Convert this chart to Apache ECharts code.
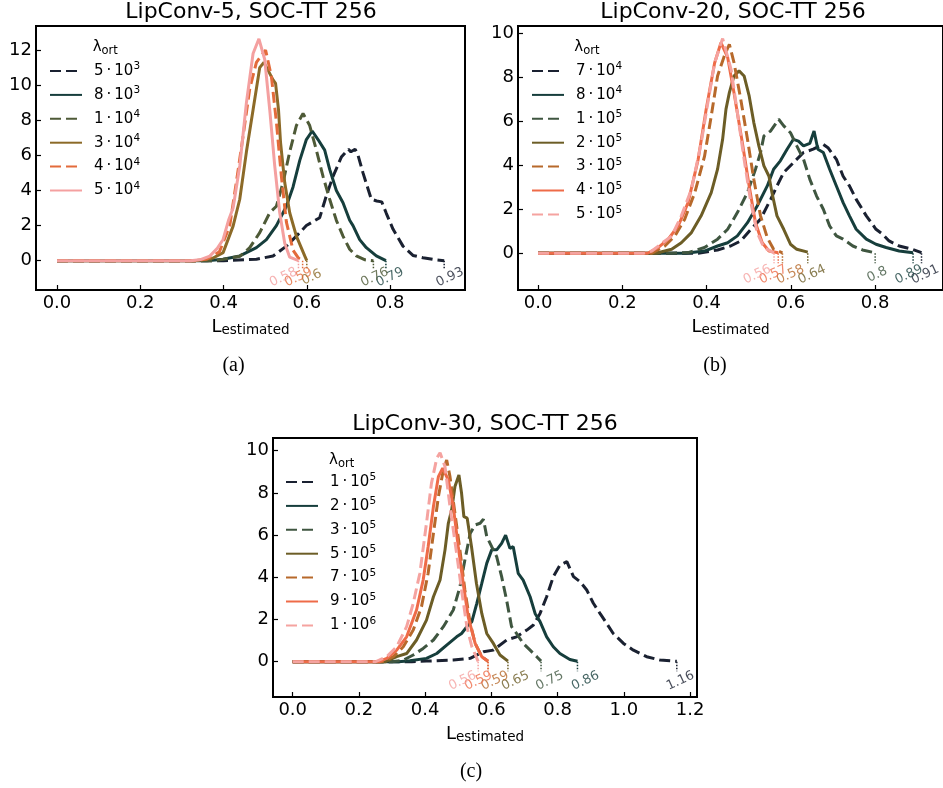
<!DOCTYPE html>
<html><head><meta charset="utf-8">
<script src="https://cdn.jsdelivr.net/npm/echarts@6/dist/echarts.min.js"></script>
<style>html,body{margin:0;padding:0;background:#fff}#c{width:943px;height:788px}</style>
</head><body><div id="c"></div>
<script>
// ================= DATA =================
// ---- Panel (a): LipConv-5
const titleA = 'LipConv-5, SOC-TT 256';
const mantA = [5, 8, 1, 3, 4, 5];
const expA  = [3, 3, 4, 4, 4, 4];
const dashA = [true, false, true, false, true, false];
const colorA = ['#1a2131', '#163e3c', '#4e5a37', '#8c6a28', '#e36b3b', '#f4a0a0'];
const a1 = [[0,0],[0.40,0],[0.479,0.08],[0.519,0.27],[0.551,0.83],[0.575,1.4],[0.599,2.0],[0.631,2.45],[0.647,3.7],[0.663,4.8],[0.683,5.9],[0.70,6.35],[0.706,6.2],[0.716,6.35],[0.722,6.1],[0.735,5.0],[0.755,3.5],[0.768,3.4],[0.78,3.35],[0.791,2.7],[0.807,1.8],[0.831,0.83],[0.855,0.3],[0.879,0.17],[0.911,0.04],[0.93,0]];
const a2 = [[0,0],[0.36,0],[0.399,0.08],[0.439,0.27],[0.467,0.6],[0.479,0.74],[0.503,1.2],[0.527,2.0],[0.551,3.1],[0.567,4.2],[0.583,5.7],[0.599,6.9],[0.613,7.39],[0.627,6.9],[0.643,6.3],[0.655,5.2],[0.671,4.0],[0.687,3.3],[0.703,2.3],[0.711,2.0],[0.727,1.2],[0.743,0.74],[0.767,0.27],[0.79,0]];
const a3 = [[0,0],[0.38,0],[0.439,0.25],[0.463,0.74],[0.487,1.6],[0.511,2.73],[0.527,3.1],[0.543,4.45],[0.559,6.2],[0.575,7.7],[0.591,8.39],[0.607,7.7],[0.623,6.3],[0.639,4.8],[0.655,3.5],[0.671,2.3],[0.687,1.4],[0.703,0.65],[0.719,0.27],[0.74,0.05],[0.76,0]];
const a4 = [[0,0],[0.33,0],[0.35,0.05],[0.375,0.15],[0.399,0.46],[0.423,1.97],[0.439,3.5],[0.455,6.2],[0.471,8.6],[0.487,11.0],[0.497,11.3],[0.508,10.8],[0.519,10.3],[0.525,10.1],[0.532,8.62],[0.537,6.72],[0.547,4.45],[0.559,2.73],[0.575,1.4],[0.595,0.27],[0.60,0]];
const a5 = [[0,0],[0.33,0],[0.36,0.1],[0.39,0.5],[0.415,2.0],[0.431,4.5],[0.447,7.1],[0.463,9.8],[0.479,11.3],[0.501,12.0],[0.515,10.5],[0.527,7.9],[0.539,4.8],[0.551,2.2],[0.567,0.6],[0.58,0.15],[0.59,0]];
const a6 = [[0,0],[0.32,0],[0.343,0.05],[0.367,0.26],[0.385,0.7],[0.399,1.21],[0.412,2.3],[0.423,3.0],[0.439,5.4],[0.455,9.0],[0.471,11.8],[0.485,12.64],[0.499,11.46],[0.511,8.6],[0.523,5.4],[0.535,2.73],[0.547,1.0],[0.559,0.2],[0.58,0]];
const endA = [0.93, 0.79, 0.76, 0.6, 0.59, 0.58];
const labelXA = [0.944, 0.800, 0.763, 0.612, 0.580, 0.544];
const xTicksA = [0, 0.2, 0.4, 0.6, 0.8];
const yTicksA = [0, 2, 4, 6, 8, 10, 12];

// ---- Panel (b): LipConv-20
const titleB = 'LipConv-20, SOC-TT 256';
const mantB = [7, 8, 1, 2, 3, 4, 5];
const expB  = [4, 4, 5, 5, 5, 5, 5];
const dashB = [true, false, true, false, true, false, true];
const colorB = ['#1a2131', '#163e3c', '#3f5640', '#6c5d26', '#b7692b', '#ee6b48', '#f5a3a0'];
const b1 = [[0,0],[0.38,0],[0.426,0.15],[0.457,0.33],[0.481,0.56],[0.505,1.09],[0.528,1.55],[0.552,2.45],[0.567,3.06],[0.583,3.67],[0.606,4.12],[0.630,4.58],[0.653,4.73],[0.677,4.95],[0.688,4.8],[0.708,4.27],[0.724,3.5],[0.739,3.06],[0.755,2.45],[0.779,1.7],[0.802,1.09],[0.818,0.86],[0.833,0.56],[0.857,0.33],[0.888,0.18],[0.91,0.03]];
const b2 = [[0,0],[0.35,0],[0.395,0.1],[0.426,0.33],[0.450,0.48],[0.473,0.79],[0.497,1.39],[0.520,2.15],[0.544,3.06],[0.559,3.82],[0.575,4.2],[0.591,4.73],[0.606,5.18],[0.618,5.1],[0.630,4.88],[0.645,5.0],[0.655,5.56],[0.664,4.73],[0.677,4.58],[0.692,3.82],[0.708,3.06],[0.724,2.3],[0.739,1.7],[0.755,1.09],[0.779,0.64],[0.802,0.41],[0.826,0.26],[0.857,0.1],[0.89,0.02]];
const b3 = [[0,0],[0.32,0],[0.356,0.03],[0.395,0.26],[0.426,0.64],[0.450,1.09],[0.473,1.85],[0.497,2.76],[0.516,3.82],[0.528,4.58],[0.536,5.33],[0.552,5.56],[0.571,6.09],[0.583,5.79],[0.599,5.48],[0.614,4.88],[0.630,4.27],[0.645,3.36],[0.661,2.6],[0.677,2.0],[0.692,1.24],[0.708,0.79],[0.724,0.64],[0.747,0.33],[0.770,0.15],[0.80,0.02]];
const b4 = [[0,0],[0.28,0],[0.317,0.18],[0.340,0.48],[0.364,0.94],[0.387,1.7],[0.411,2.76],[0.426,3.82],[0.438,5.18],[0.446,6.55],[0.454,7.3],[0.465,8.06],[0.477,8.29],[0.489,8.06],[0.501,7.15],[0.512,5.94],[0.524,4.88],[0.536,3.97],[0.548,3.5],[0.555,2.76],[0.567,1.7],[0.583,1.09],[0.599,0.41],[0.614,0.18],[0.64,0.05]];
const b5 = [[0,0],[0.27,0],[0.301,0.33],[0.325,0.79],[0.348,1.55],[0.372,2.76],[0.395,4.4],[0.411,6.24],[0.426,8.06],[0.442,8.97],[0.454,9.5],[0.465,8.67],[0.481,7.0],[0.497,5.18],[0.512,3.36],[0.528,1.7],[0.544,0.71],[0.559,0.18],[0.58,0.02]];
const b6 = [[0,0],[0.26,0],[0.285,0.26],[0.309,0.64],[0.333,1.25],[0.356,2.3],[0.380,4.27],[0.399,6.55],[0.419,8.65],[0.434,9.57],[0.450,8.9],[0.465,7.3],[0.485,5.0],[0.501,3.06],[0.516,1.39],[0.532,0.48],[0.548,0.1],[0.57,0.02]];
const b7 = [[0,0],[0.25,0],[0.27,0.1],[0.301,0.56],[0.317,0.78],[0.340,1.7],[0.364,2.9],[0.387,5.0],[0.403,6.85],[0.419,8.65],[0.438,9.76],[0.458,8.36],[0.473,6.4],[0.489,4.27],[0.505,2.3],[0.520,0.94],[0.536,0.26],[0.56,0.02]];
const endB = [0.91, 0.89, 0.8, 0.64, 0.58, 0.57, 0.56];
const labelXB = [0.919, 0.880, 0.805, 0.650, 0.599, 0.558, 0.520];
const xTicksB = [0, 0.2, 0.4, 0.6, 0.8];
const yTicksB = [0, 2, 4, 6, 8, 10];

// ---- Panel (c): LipConv-30
const titleC = 'LipConv-30, SOC-TT 256';
const mantC = [1, 2, 3, 5, 7, 9, 1];
const expC  = [5, 5, 5, 5, 5, 5, 6];
const dashC = [true, false, true, false, true, false, true];
const colorC = ['#1a2131', '#163e3c', '#3f5640', '#6c5d26', '#b7692b', '#ee6b48', '#f5a3a0'];
const c1 = [[0,0],[0.36,0],[0.404,0.03],[0.485,0.08],[0.536,0.16],[0.576,0.47],[0.606,0.55],[0.646,1.03],[0.676,1.18],[0.707,1.5],[0.727,1.74],[0.747,2.29],[0.767,3.08],[0.787,4.03],[0.807,4.58],[0.828,4.74],[0.848,4.03],[0.868,3.79],[0.888,3.4],[0.908,2.77],[0.928,2.29],[0.948,1.82],[0.968,1.34],[0.999,0.87],[1.029,0.55],[1.069,0.24],[1.109,0.08],[1.16,0.02]];
const c2 = [[0,0],[0.32,0],[0.354,0.05],[0.404,0.16],[0.435,0.39],[0.465,0.79],[0.495,1.18],[0.510,1.34],[0.526,1.66],[0.541,1.9],[0.556,2.77],[0.571,3.71],[0.586,4.66],[0.601,5.3],[0.616,5.3],[0.631,5.61],[0.643,6.0],[0.656,5.37],[0.666,5.45],[0.681,4.19],[0.696,3.87],[0.717,3.08],[0.732,2.29],[0.747,1.9],[0.767,1.18],[0.787,0.71],[0.807,0.39],[0.837,0.11],[0.86,0.02]];
const c3 = [[0,0],[0.30,0],[0.334,0.08],[0.364,0.32],[0.394,0.63],[0.425,1.03],[0.455,1.66],[0.485,2.45],[0.505,3.55],[0.520,4.82],[0.536,6.08],[0.551,6.48],[0.566,6.56],[0.576,6.75],[0.586,5.93],[0.601,5.45],[0.616,4.98],[0.631,4.03],[0.646,2.92],[0.661,1.66],[0.676,1.34],[0.696,0.87],[0.717,0.55],[0.737,0.24],[0.75,0.03]];
const c4 = [[0,0],[0.28,0],[0.314,0.24],[0.344,0.39],[0.374,1.03],[0.404,1.97],[0.425,3.08],[0.445,3.87],[0.460,5.3],[0.470,6.56],[0.480,7.19],[0.490,8.3],[0.502,8.85],[0.510,7.98],[0.517,6.87],[0.527,6.8],[0.540,5.45],[0.555,3.71],[0.571,2.29],[0.586,1.34],[0.606,0.87],[0.626,0.32],[0.65,0.03]];
const c5 = [[0,0],[0.27,0],[0.304,0.24],[0.334,0.71],[0.364,1.5],[0.389,2.61],[0.409,4.19],[0.425,6.08],[0.440,7.82],[0.455,9.09],[0.465,9.56],[0.475,8.77],[0.490,7.03],[0.505,5.3],[0.520,3.4],[0.536,1.82],[0.551,0.87],[0.571,0.24],[0.59,0.02]];
const c6 = [[0,0],[0.26,0],[0.284,0.16],[0.314,0.55],[0.344,1.18],[0.374,2.45],[0.394,3.87],[0.409,5.45],[0.425,7.35],[0.440,8.77],[0.453,9.17],[0.470,8.61],[0.485,7.35],[0.500,5.45],[0.515,3.71],[0.530,2.13],[0.551,0.87],[0.571,0.24],[0.59,0.02]];
const c7 = [[0,0],[0.25,0],[0.284,0.24],[0.314,0.71],[0.344,1.66],[0.364,2.77],[0.384,4.19],[0.404,6.56],[0.419,8.45],[0.435,9.64],[0.445,9.9],[0.460,9.24],[0.475,7.35],[0.495,5.14],[0.510,3.4],[0.526,1.66],[0.541,0.71],[0.56,0.02]];
const endC = [1.16, 0.86, 0.75, 0.65, 0.59, 0.59, 0.56];
const labelXC = [1.171, 0.884, 0.776, 0.673, 0.611, 0.561, 0.513];
const xTicksC = [0, 0.2, 0.4, 0.6, 0.8, 1.0, 1.2];
const yTicksC = [0, 2, 4, 6, 8, 10];

// ================= LAYOUT =================
const FONT = 'DejaVu Sans';
const panels = [
  { id:'a', title:titleA, mant:mantA, exp:expA, dash:dashA, color:colorA, curves:[a1,a2,a3,a4,a5,a6], ends:endA, labelX:labelXA, labelY:-0.95,
    xTicks:xTicksA, yTicks:yTicksA, grid:{left:36, top:26, width:429, height:264}, xr:[-0.0504, 0.980], yr:[-1.67, 13.37],
    titlePos:[251, 1], legendPos:[49, 61], lambdaPos:[92.7, 37.5], caption:'(a)', capPos:[233.5, 356] },
  { id:'b', title:titleB, mant:mantB, exp:expB, dash:dashB, color:colorB, curves:[b1,b2,b3,b4,b5,b6,b7], ends:endB, labelX:labelXB, labelY:-0.97,
    xTicks:xTicksB, yTicks:yTicksB, grid:{left:518, top:26, width:430, height:264}, xr:[-0.0476, 0.961], yr:[-1.67, 10.33],
    titlePos:[733, 1], legendPos:[531, 61], lambdaPos:[574.3, 37.5], caption:'(b)', capPos:[715, 356] },
  { id:'c', title:titleC, mant:mantC, exp:expC, dash:dashC, color:colorC, curves:[c1,c2,c3,c4,c5,c6,c7], ends:endC, labelX:labelXC, labelY:-0.9,
    xTicks:xTicksC, yTicks:yTicksC, grid:{left:273, top:438, width:424, height:259}, xr:[-0.0595, 1.221], yr:[-1.67, 10.60],
    titlePos:[485, 413], legendPos:[285, 472], lambdaPos:[329, 450.5], caption:'(c)', capPos:[471, 762] }
];

const grids = [], xAxes = [], yAxes = [], series = [], legends = [], titles = [];
panels.forEach((p, pi) => {
  grids.push(Object.assign({ show:true, borderColor:'#000', borderWidth:2, containLabel:false }, p.grid));
  xAxes.push({
    type:'value', gridIndex:pi, min:p.xr[0], max:p.xr[1],
    axisLine:{ show:true, onZero:false, lineStyle:{ color:'#000', width:2 } },
    axisTick:{ show:true, inside:true, length:5, lineStyle:{ color:'#000', width:1.2 }, customValues:p.xTicks },
    axisLabel:{ customValues:p.xTicks, formatter:v => v.toFixed(1), fontSize:18, color:'#000', margin:4, fontFamily:FONT },
    splitLine:{ show:false },
    name:'{L|L}{s|estimated}', nameLocation:'middle', nameGap:27,
    nameTextStyle:{ color:'#000', fontFamily:FONT, rich:{
      L:{ fontSize:18, lineHeight:20, fontFamily:FONT, color:'#000' },
      s:{ fontSize:13.5, lineHeight:10, verticalAlign:'bottom', fontFamily:FONT, color:'#000' } } }
  });
  yAxes.push({
    type:'value', gridIndex:pi, min:p.yr[0], max:p.yr[1],
    axisLine:{ show:true, onZero:false, lineStyle:{ color:'#000', width:2 } },
    axisTick:{ show:true, inside:true, length:5, lineStyle:{ color:'#000', width:1.2 }, customValues:p.yTicks },
    axisLabel:{ customValues:p.yTicks, formatter:v => String(v), fontSize:18, color:'#000', margin:4, fontFamily:FONT },
    splitLine:{ show:false }
  });
  const names = [];
  p.curves.forEach((d, i) => {
    const name = p.id + ':' + p.mant[i] + ':' + p.exp[i];
    names.push(name);
    series.push({
      type:'line', name, data:d, xAxisIndex:pi, yAxisIndex:pi, symbol:'none', showSymbol:false,
      lineStyle:{ color:p.color[i], width:3, type:p.dash[i] ? [11, 5] : 'solid', cap:'butt' },
      itemStyle:{ color:p.color[i] }, silent:true, z:2 + i * 0.01
    });
    series.push({
      type:'line', name:p.id + '_drop' + i, data:[[p.ends[i], 0], [p.ends[i], -0.45]], xAxisIndex:pi, yAxisIndex:pi,
      symbol:'none', lineStyle:{ color:p.color[i], width:1.5, type:'dotted' }, silent:true, z:3
    });
    series.push({
      type:'scatter', name:p.id + '_lab' + i, data:[[p.labelX[i], p.labelY]], xAxisIndex:pi, yAxisIndex:pi,
      symbol:'circle', symbolSize:1, itemStyle:{ color:'rgba(0,0,0,0)' }, silent:true, z:4,
      label:{ show:true, position:'inside', formatter:String(p.ends[i]), rotate:25, color:p.color[i], fontSize:13, fontFamily:FONT }
    });
  });
  legends.push({
    data:names, orient:'vertical', left:p.legendPos[0], top:p.legendPos[1], padding:0,
    itemWidth:32, itemHeight:12, itemGap:6.4, selectedMode:false,
    itemStyle:{ color:'rgba(0,0,0,0)', borderWidth:0, opacity:0 },
    formatter:n => { const s = n.split(':'); return '{n|' + s[1] + '\u2009·\u2009' + '10}{s|' + s[2] + '}'; },
    textStyle:{ color:'#000', fontFamily:FONT, padding:[0, 0, 0, 7], rich:{
      n:{ fontSize:15, lineHeight:20, fontFamily:FONT, color:'#000' },
      s:{ fontSize:10.5, lineHeight:12, verticalAlign:'top', fontFamily:FONT, color:'#000' } } }
  });
  titles.push({ text:p.title, left:p.titlePos[0], top:p.titlePos[1], textAlign:'center', padding:0,
    textStyle:{ fontSize:22, fontWeight:'normal', color:'#000', fontFamily:FONT } });
  titles.push({ text:'{l|λ}{o|ort}', left:p.lambdaPos[0], top:p.lambdaPos[1], padding:0,
    textStyle:{ fontFamily:FONT, fontWeight:'normal', rich:{
      l:{ fontSize:15, lineHeight:20, fontFamily:FONT, fontWeight:'normal', color:'#000' },
      o:{ fontSize:11.5, lineHeight:11, verticalAlign:'bottom', fontFamily:FONT, fontWeight:'normal', color:'#000' } } } });
  titles.push({ text:p.caption, left:p.capPos[0], top:p.capPos[1], textAlign:'center', padding:0,
    textStyle:{ fontSize:20, fontWeight:'normal', color:'#000', fontFamily:'Liberation Serif' } });
});

const chart = echarts.init(document.getElementById('c'), null, { renderer:'canvas', width:943, height:788 });
chart.setOption({
  animation:false, backgroundColor:'#fff',
  title:titles, grid:grids, xAxis:xAxes, yAxis:yAxes, legend:legends, series:series
});
</script></body></html>
